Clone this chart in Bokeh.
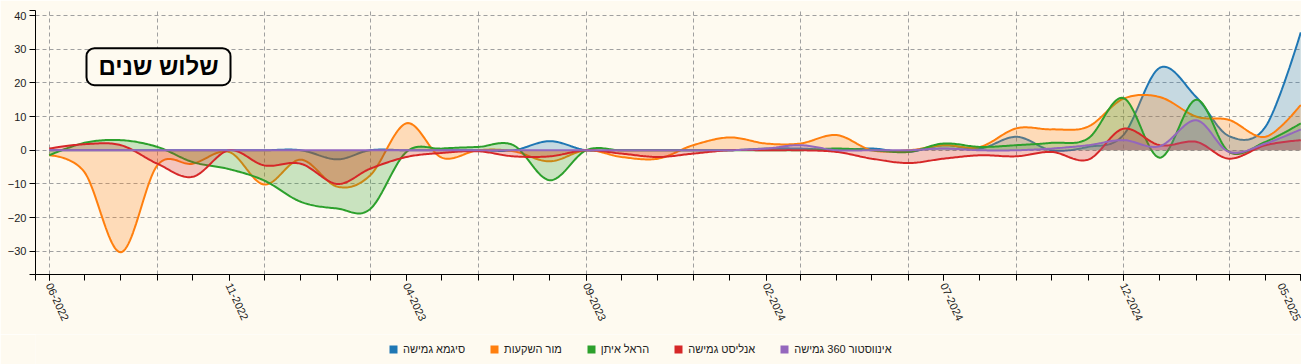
import numpy as np
import pandas as pd
from bokeh.plotting import figure
from bokeh.layouts import column
from bokeh.models import Range1d, FixedTicker, DatetimeTickFormatter, Legend, LegendItem, Label
from bokeh.embed import file_html
from bokeh.resources import INLINE

# ---------------- data ----------------
months = pd.date_range("2022-06-01", "2025-05-01", freq="MS")

series_names = ["סיגמא גמישה", "מור השקעות", "הראל איתן", "אנליסט גמישה", "אינווסטור 360 גמישה"]
colors = ["#1f77b4", "#ff7f0e", "#2ca02c", "#d62728", "#9467bd"]

sigma = [0, 0, 0, 0, 0, 0, 0, 0, -2.7, 0, 0, 0,
         0, 0, 2.7, 0, 0, 0, 0, 0, 0.5, 0.5, 0, 0.5,
         -0.5, 1.5, 0.5, 4, 0, 1, 4.5, 24.5, 15.8, 4.2, 7, 35]
mor = [-1.5, -6.5, -30.3, -4.5, -4, -0.5, -10.2, -2.8, -10.8, -7.5, 8, -2.2,
       0, -0.3, -3.3, 0, -2, -2.5, 1.5, 3.8, 2, 2, 4.5, 0,
       0, 1.5, 1, 6.5, 6.2, 7, 15.3, 15.8, 10, 9, 4, 13.5]
harel = [-1.5, 2.2, 3, 1, -3.5, -5.6, -9, -15.3, -17.3, -17.5, -0.5, 0.5,
         1, 1.5, -8.9, 0, 0, 0, 0, 0, 0, 0, 0.5, 0,
         -0.5, 2, 1, 1.5, 2.2, 3.5, 15.5, -2.2, 15, -0.5, 2.5, 8]
analyst = [0.5, 1.8, 1.5, -4, -7.9, 0, -4.5, -4, -10, -5.5, -2, -0.8,
           -0.3, -1.8, -1.8, 0, -1, -2, -1, 0, 0, 0, -0.5, -2.5,
           -3.8, -2.5, -1.5, -1.8, -0.5, -2.8, 6.4, 1.5, 2.5, -2.5, 1.5, 3]
investor = [0, 0, 0, 0, 0, 0, 0, 0, 0, 0, 0, 0,
            0, 0, 0, 0, 0, 0, 0, 0, 0.5, 1.5, 0, 0,
            0, 0.5, 0, 0, 0.5, 1.5, 3, 1.2, 8.9, -0.5, 2, 6.2]
series_values = [sigma, mor, harel, analyst, investor]

label_months = ["2022-06", "2022-11", "2023-04", "2023-09", "2024-02", "2024-07", "2024-12", "2025-05"]
grid_months = ["2022-06", "2022-09", "2022-12", "2023-03", "2023-06", "2023-09",
               "2023-12", "2024-03", "2024-06", "2024-09", "2024-12", "2025-03"]
y_ticks = [-30, -20, -10, 0, 10, 20, 30, 40]
title_text = "שלוש שנים"

# ---------------- helpers ----------------
def ms(d):
    return pd.Timestamp(d).value / 1e6

def cardinal(xs, ys, n=24):
    """d3-style cardinal (tension 0) curve through the points."""
    xs = np.asarray(xs, float)
    ys = np.asarray(ys, float)
    px = np.concatenate([[xs[1]], xs, [xs[-2]]])
    py = np.concatenate([[ys[1]], ys, [ys[-2]]])
    t = np.linspace(0, 1, n, endpoint=False)
    ox, oy = [], []
    for i in range(1, len(px) - 2):
        x0, x1, x2, x3 = px[i - 1:i + 3]
        y0, y1, y2, y3 = py[i - 1:i + 3]
        if i == 1:
            c1x, c1y = x1, y1
        else:
            c1x, c1y = x1 + (x2 - x0) / 6, y1 + (y2 - y0) / 6
        if i == len(px) - 3:
            c2x, c2y = x2, y2
        else:
            c2x, c2y = x2 - (x3 - x1) / 6, y2 - (y3 - y1) / 6
        a, b, c, d = (1 - t) ** 3, 3 * (1 - t) ** 2 * t, 3 * (1 - t) * t ** 2, t ** 3
        ox.append(a * x1 + b * c1x + c * c2x + d * x2)
        oy.append(a * y1 + b * c1y + c * c2y + d * y2)
    ox.append([xs[-1]])
    oy.append([ys[-1]])
    return np.concatenate(ox), np.concatenate(oy)

# ---------------- main figure ----------------
bg = "#fefaf0"
x_start = pd.Timestamp("2022-06-01") - pd.Timedelta(days=11.66)
x_end = pd.Timestamp("2022-06-01") + pd.Timedelta(days=1065.6)

p = figure(width=1301, height=334, output_backend="svg", toolbar_location=None,
           x_axis_type="datetime",
           x_range=Range1d(ms(x_start), ms(x_end)), y_range=Range1d(-36.9, 41.5),
           min_border_left=35, min_border_right=0, min_border_top=10, min_border_bottom=60)
p.background_fill_color = bg
p.border_fill_color = bg
p.outline_line_color = None

month_ms = [ms(m) for m in months]

for name, col, vals in zip(series_names, colors, series_values):
    sx, sy = cardinal(month_ms, vals)
    p.varea(x=sx, y1=np.zeros_like(sy), y2=sy, fill_color=col, fill_alpha=0.25)
    p.line(sx, sy, line_color=col, line_width=2)

# axes
fmt = "%m-%Y"
p.xaxis.formatter = DatetimeTickFormatter(microseconds=fmt, milliseconds=fmt, seconds=fmt, minsec=fmt,
                                          minutes=fmt, hourmin=fmt, hours=fmt, days=fmt,
                                          months=fmt, years=fmt)
p.xaxis.ticker = FixedTicker(ticks=[ms(m) for m in label_months],
                             minor_ticks=month_ms + [ms(x_start) + 3600e3])
p.yaxis.ticker = FixedTicker(ticks=y_ticks, minor_ticks=[-36.85, 41.45])
for ax in (p.xaxis[0], p.yaxis[0]):
    ax.axis_line_color = "black"
    ax.axis_line_width = 1
    ax.major_tick_line_color = "black"
    ax.minor_tick_line_color = "black"
    ax.major_tick_in = 0
    ax.major_tick_out = 6
    ax.minor_tick_in = 0
    ax.minor_tick_out = 6
    ax.major_label_text_font = "Liberation Sans"
    ax.major_label_text_font_size = "11px"
    ax.major_label_text_color = "#222222"
    ax.major_label_standoff = 3
p.xaxis.major_label_orientation = -1.14

# grids
p.xgrid.ticker = FixedTicker(ticks=[ms(m) for m in grid_months])
p.ygrid.ticker = FixedTicker(ticks=y_ticks)
for g in (p.xgrid[0], p.ygrid[0]):
    g.grid_line_color = "#a0a0a0"
    g.grid_line_dash = "4 3"
    g.grid_line_width = 1

# boxed title
title = Label(x=ms("2022-09-02"), y=24.8, text=title_text,
              text_font="Liberation Sans", text_font_style="bold", text_font_size="24px",
              text_align="center", text_baseline="middle", text_color="black",
              border_line_color="black", border_line_width=2, border_radius=8,
              background_fill_color=bg,
              padding=dict(left=12, right=12, top=5, bottom=5))
p.add_layout(title)

# ---------------- legend strip ----------------
q = figure(width=1301, height=30, output_backend="svg", toolbar_location=None,
           x_range=Range1d(0, 1), y_range=Range1d(0, 1),
           x_axis_location=None, y_axis_location=None,
           min_border_left=0, min_border_right=0, min_border_top=0, min_border_bottom=0)
q.background_fill_color = bg
q.border_fill_color = bg
q.outline_line_color = None
q.xgrid.visible = False
q.ygrid.visible = False

items = []
for name, col in zip(series_names, colors):
    # swatch source placed outside the visible range: only its legend square is seen
    r = q.quad(left=[5], right=[6], top=[6], bottom=[5], fill_color=col, line_color=None)
    items.append(LegendItem(label=name, renderers=[r]))
legend = Legend(items=items, orientation="horizontal", location=(353, 8),
                glyph_width=10, glyph_height=10, label_standoff=5, spacing=24,
                padding=0, margin=0, label_height=14,
                background_fill_alpha=0, border_line_color=None,
                label_text_font="Liberation Sans", label_text_font_size="11px",
                label_text_color="#222222")
q.add_layout(legend)

layout = column(p, q, spacing=0)
open("out.html", "w").write(file_html(layout, INLINE))
